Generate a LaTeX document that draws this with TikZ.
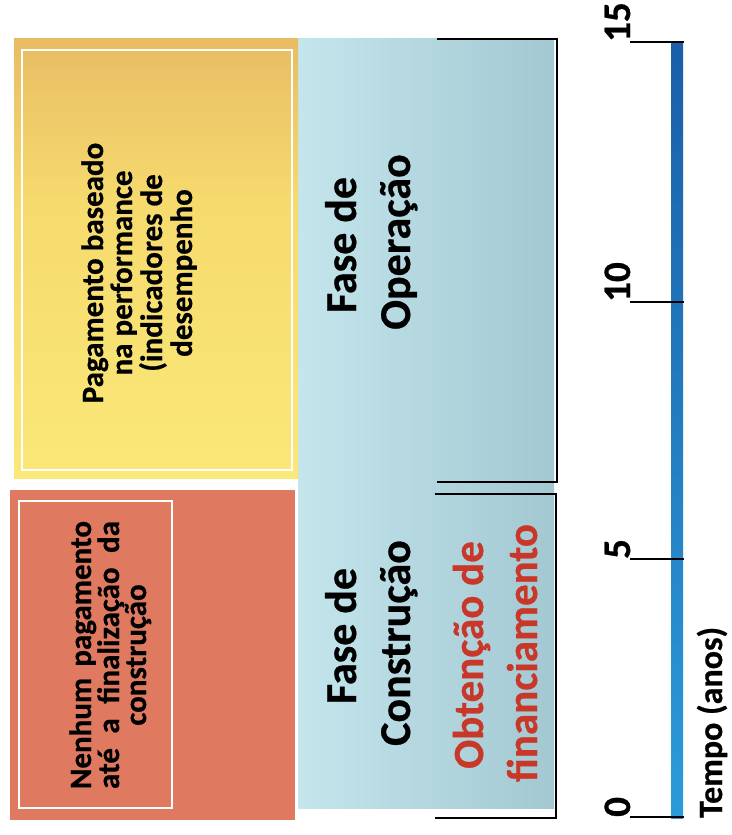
\documentclass[tikz,border=0pt]{standalone}
\usepackage{fontspec}
\setmainfont{Carlito}[BoldFeatures={FakeBold=0.6}]
\definecolor{orangebox}{RGB}{223,122,96}
\definecolor{yeltop}{RGB}{232,188,100}
\definecolor{yelmid}{RGB}{246,218,110}
\definecolor{yelbot}{RGB}{250,232,120}
\definecolor{blueleft}{RGB}{196,229,236}
\definecolor{blueright}{RGB}{163,200,210}
\definecolor{tltop}{RGB}{26,95,168}
\definecolor{tlbot}{RGB}{44,155,218}
\definecolor{redtext}{RGB}{200,55,40}
\begin{document}
\begin{tikzpicture}[x=1pt,y=-1pt,
  boxtext/.style={rotate=90,anchor=base,inner sep=0pt,font=\bfseries\fontsize{31}{31}\selectfont},
  phasetext/.style={rotate=90,anchor=base,inner sep=0pt,font=\bfseries\fontsize{44}{44}\selectfont},
  ticklab/.style={rotate=90,anchor=base west,inner sep=0pt,font=\bfseries\fontsize{39}{39}\selectfont},
  axislab/.style={rotate=90,anchor=base west,inner sep=0pt,font=\bfseries\fontsize{34}{34}\selectfont},
  bracket/.style={draw=black,line width=1.8pt},
  tickline/.style={draw=black,line width=1.8pt},
  innerframe/.style={draw=white,line width=1.5pt}]
\useasboundingbox (0,0) rectangle (731,835);
\fill[white] (0,0) rectangle (731,835);

% blue phase area
\shade[left color=blueleft,right color=blueright] (298,38) rectangle (554,808);

% yellow box
\shade[top color=yeltop,bottom color=yelmid] (14,38) rectangle (298,200.5);
\shade[top color=yelmid,bottom color=yelbot] (14,200) rectangle (298,478);
\draw[innerframe] (22,50) rectangle (292,470);

% orange box
\fill[orangebox] (10,490) rectangle (295,820);
\draw[innerframe] (19,501) rectangle (172,808);

% brackets
\draw[bracket] (437,39) -- (557,39) -- (557,482) -- (437,482);
\draw[bracket] (435,494) -- (556,494) -- (556,818) -- (435,818);

% texts in boxes
\node[boxtext] (y1) at (103,273) {Pagamento baseado};
\node[boxtext] (y2) at (132,273) {na performance};
\node[boxtext] (y3) at (162,273) {(indicadores de};
\node[boxtext] (y4) at (192,273) {desempenho};

\node[boxtext] (o1) at (91,655) {\makebox[268pt][s]{Nenhum pagamento}};
\node[boxtext] (o2) at (119,655) {\makebox[268pt][s]{até a finalização da}};
\node[boxtext] (o3) at (146,655) {construção};

\node[phasetext] (op1) at (356,245) {Fase de};
\node[phasetext] (op2) at (410,242) {Operação};
\node[phasetext] (co1) at (356,636) {Fase de};
\node[phasetext] (co2) at (410,643) {Construção};
\node[phasetext,text=redtext,font=\bfseries\fontsize{43}{43}\selectfont] (fi1) at (483,655) {Obtenção de};
\node[phasetext,text=redtext,font=\bfseries\fontsize{43}{43}\selectfont] (fi2) at (537,653) {financiamento};

% timeline
\shade[top color=tltop,bottom color=tlbot] (671,42) rectangle (683,818);
\coordinate (t0) at (630,817);
\coordinate (t5) at (630,559);
\coordinate (t10) at (630,302);
\coordinate (t15) at (630,42);
\foreach \t in {0,5,10,15}{
  \draw[tickline] (t\t) -- ++(54,0);
}
\node[ticklab] (l0) at (t0) {0};
\node[ticklab] (l5) at (t5) {5};
\node[ticklab] (l10) at (t10) {10};
\node[ticklab] (l15) at (t15) {15};
\node[axislab] (axis) at (722,818) {Tempo (anos)};
\end{tikzpicture}
\end{document}
